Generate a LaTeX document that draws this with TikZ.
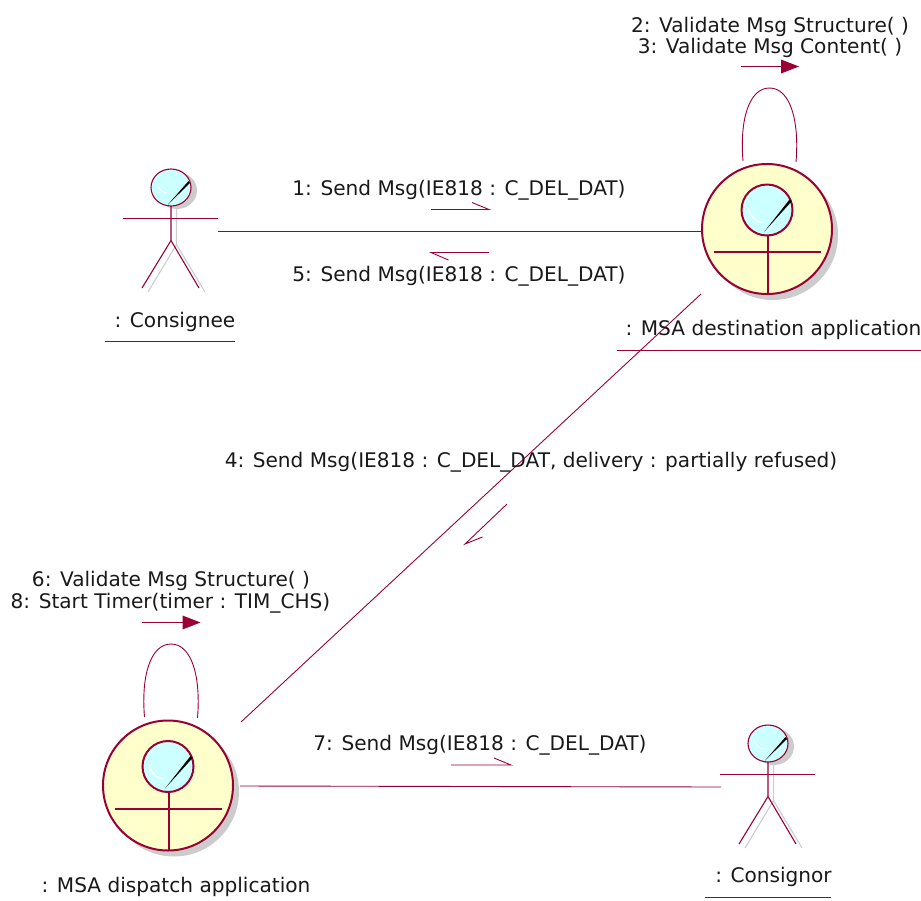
\documentclass[tikz,border=0pt]{standalone}
\usepackage{fontspec}
\setmainfont{DejaVu Sans}
\usetikzlibrary{calc}
\definecolor{umlline}{HTML}{990033}
\definecolor{umlfill}{HTML}{FFFFCC}
\definecolor{umlhead}{HTML}{CCFFFF}
\definecolor{umlshade}{HTML}{CCCCCC}
\tikzset{
  x=1pt,y=-1pt,
  lbl/.style={font=\fontsize{20.1}{24}\selectfont,inner sep=0pt,anchor=base,text=black!90},
  link/.style={draw=umlline,line width=0.9pt},
  ulined/.style={draw=umlline,line width=0.9pt},
  thick line/.style={draw=umlline,line width=2pt},
  portal/.style={circle,draw=umlline,line width=2pt,fill=umlfill,minimum size=130pt,inner sep=0pt},
  selfmark/.style={draw=umlline,line width=0.9pt},
}
\newcommand{\bigactor}[2]{%
  \begin{scope}[shift={(#1,#2)}]
    \fill[umlshade] (6,6) circle[radius=65];
    \node[portal] at (0,0) {};
    \draw[draw=umlline,line width=2pt,fill=umlhead] (0,-19) circle[radius=25.5];
    \draw[white,line width=1.2pt] (-19,-21) arc[start angle=170,end angle=100,radius=18];
    \fill[black] (-3,3) -- (22.5,-29.5) -- (24.5,-27.5) -- cycle;
    \draw[thick line] (0.5,6.5) -- (0.5,65);
    \draw[thick line] (-53,23) -- (54,23);
  \end{scope}}
\newcommand{\smallactor}[2]{%
  \begin{scope}[shift={(#1,#2)}]
    \fill[umlshade] (6,3) ellipse[x radius=20,y radius=18.5];
    \draw[umlshade,line width=1.1pt] (5.5,18) -- (5.5,57) (-23,104.5) -- (5.5,57) -- (34,104.5);
    \draw[draw=umlline,line width=1.1pt,fill=umlhead] (0,0) ellipse[x radius=20,y radius=18.5];
    \draw[white,line width=0.8pt] (-14,-4) arc[start angle=170,end angle=100,radius=12];
    \fill[black] (-3,17) -- (17.5,-6.5) -- (19,-4.5) -- cycle;
    \draw[draw=umlline,line width=1.1pt] (0,18.5) -- (0,53) (-29,100.5) -- (0,53) -- (28,100.5);
    \draw[draw=umlline,line width=0.9pt] (-48,30.5) -- (47,30.5);
  \end{scope}}
\begin{document}
\begin{tikzpicture}
\useasboundingbox (0,0) rectangle (921,900);

\bigactor{767}{229}
\bigactor{168}{785.5}
\smallactor{171}{187.5}
\smallactor{768}{743.5}

% link end points
\coordinate (a1) at (218,231);
\coordinate (a2) at (701,231);
\coordinate (b1) at (701,294);
\coordinate (b2) at (241,722);
\coordinate (c1) at (240,786);
\coordinate (c2) at (721,787);
\draw[link] (a1) -- (a2);
\draw[link] (b1) -- (b2);
\draw[link] (c1) -- (c2);

% self loops
\coordinate (l1) at (743,161);
\coordinate (l2) at (796,162);
\draw[selfmark] (l1) .. controls (739.5,120) and (749,88) .. (769.5,88) .. controls (790,88) and (799.5,120) .. (l2);
\coordinate (m1) at (144.5,717);
\coordinate (m2) at (197.5,718);
\draw[selfmark] (m1) .. controls (141,676) and (150.5,644) .. (171,644) .. controls (191.5,644) and (201,676) .. (m2);

% message arrows
\coordinate (s1) at (431,209.5); \coordinate (s2) at (489,209.5); \coordinate (s3) at (472,202.5);
\draw[link] (s1) -- (s2) -- (s3);
\coordinate (r1) at (489,252.5); \coordinate (r2) at (431,252.5); \coordinate (r3) at (448.5,260);
\draw[link] (r1) -- (r2) -- (r3);
\coordinate (d1) at (507,504); \coordinate (d2) at (465,544); \coordinate (d3) at (482.5,537);
\draw[link] (d1) -- (d2) -- (d3);
\coordinate (t1) at (451,765); \coordinate (t2) at (511,765); \coordinate (t3) at (494,758);
\draw[link] (t1) -- (t2) -- (t3);

% self message arrows
\coordinate (u1) at (741,66.5); \coordinate (u2) at (782,66.5); \coordinate (u3) at (799,66.5);
\draw[link] (u1) -- (u2);
\fill[umlline] (u3) -- (781,59.5) -- (781,73.5) -- cycle;
\coordinate (v1) at (142,622.5); \coordinate (v2) at (183,622.5); \coordinate (v3) at (200.5,622.5);
\draw[link] (v1) -- (v2);
\fill[umlline] (v3) -- (182.5,615.5) -- (182.5,629.5) -- cycle;

% labels
\node[lbl] (t2a) at (770,32.5) {2: Validate Msg Structure( )};
\node[lbl] (t3a) at (770,53.5) {3: Validate Msg Content( )};
\node[lbl] (t1a) at (459,195.5) {1: Send Msg(IE818 : C\_DEL\_DAT)};
\node[lbl] (t5a) at (459,281.5) {5: Send Msg(IE818 : C\_DEL\_DAT)};
\node[lbl] (n1) at (175,327.5) {: Consignee};
\node[lbl] (n2) at (773.5,335.5) {: MSA destination application};
\node[lbl] (t4a) at (531,467.5) {4: Send Msg(IE818 : C\_DEL\_DAT, delivery : partially refused)};
\node[lbl] (t6a) at (171,586.5) {6: Validate Msg Structure( )};
\node[lbl] (t8a) at (170.5,608.5) {8: Start Timer(timer : TIM\_CHS)};
\node[lbl] (t7a) at (480,750.5) {7: Send Msg(IE818 : C\_DEL\_DAT)};
\node[lbl] (n3) at (176,892.5) {: MSA dispatch application};
\node[lbl] (n4) at (773.5,882.5) {: Consignor};

% name underlines
\draw[ulined] (105,341.5) -- (235,341.5);
\draw[ulined] (617,350.5) -- (921,350.5);
\draw[ulined] (705,897) -- (831,897);
\end{tikzpicture}
\end{document}
